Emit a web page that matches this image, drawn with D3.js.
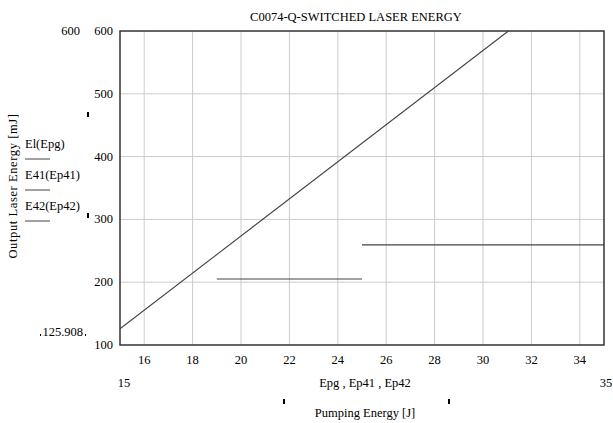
<!DOCTYPE html>
<html>
<head>
<meta charset="utf-8">
<script src="https://cdn.jsdelivr.net/npm/d3@7"></script>
<style>
body { margin: 0; background: #fff; }
svg text { font-family: "Liberation Serif", "Times New Roman", Times, "DejaVu Serif", serif; font-size: 12.5px; fill: #000; }
</style>
</head>
<body>
<div id="chart"></div>
<script>
var W = 613, H = 423;
var margin = {left: 120, right: 9, top: 31, bottom: 78};

// El(Epg) straight line, E41 and E42 flat segments
var elEpg = [[15, 125.908], [31.05, 600]];
var e41 = [[19, 205], [25, 205]];
var e42 = [[25, 259.5], [35, 259.5]];

var xTicks = [16, 18, 20, 22, 24, 26, 28, 30, 32, 34];
var yTicks = [100, 200, 300, 400, 500, 600];
var legendNames = ["El(Epg)", "E41(Ep41)", "E42(Ep42)"];

var svg = d3.select("#chart").append("svg").attr("width", W).attr("height", H);

var x = d3.scaleLinear().domain([15, 35]).range([margin.left, W - margin.right]);
var y = d3.scaleLinear().domain([100, 600]).range([H - margin.bottom, margin.top]);

// grid
svg.append("g").selectAll("line").data(xTicks).enter().append("line")
    .attr("x1", function(d) { return x(d); }).attr("x2", function(d) { return x(d); })
    .attr("y1", y(100)).attr("y2", y(600))
    .attr("stroke", "#cccccc").attr("stroke-width", 1);
svg.append("g").selectAll("line").data(yTicks.slice(1, -1)).enter().append("line")
    .attr("y1", function(d) { return y(d); }).attr("y2", function(d) { return y(d); })
    .attr("x1", x(15)).attr("x2", x(35))
    .attr("stroke", "#cccccc").attr("stroke-width", 1);

// frame
svg.append("rect")
    .attr("x", x(15)).attr("y", y(600))
    .attr("width", x(35) - x(15)).attr("height", y(100) - y(600))
    .attr("fill", "none").attr("stroke", "#333").attr("stroke-width", 1.5);

var line = d3.line().x(function(d) { return x(d[0]); }).y(function(d) { return y(d[1]); });
[elEpg, e41, e42].forEach(function(s) {
    svg.append("path").datum(s).attr("d", line)
        .attr("fill", "none").attr("stroke", "#444").attr("stroke-width", 1.1);
});

// y tick labels
svg.append("g").selectAll("text").data(yTicks).enter().append("text")
    .attr("x", x(15) - 7).attr("y", function(d) { return y(d) + 4; })
    .attr("text-anchor", "end").text(function(d) { return d; });

// x tick labels
svg.append("g").selectAll("text").data(xTicks).enter().append("text")
    .attr("x", function(d) { return x(d); }).attr("y", 364)
    .attr("text-anchor", "middle").text(function(d) { return d; });

svg.append("text").attr("x", x(15) + 4).attr("y", 387).attr("text-anchor", "middle").text("15");
svg.append("text").attr("x", x(35) + 2).attr("y", 387).attr("text-anchor", "middle").text("35");
svg.append("text").attr("x", 365).attr("y", 387).attr("text-anchor", "middle").text("Epg , Ep41 , Ep42");
svg.append("text").attr("x", 365).attr("y", 417).attr("text-anchor", "middle").text("Pumping Energy [J]");
svg.append("rect").attr("x", 283).attr("y", 399).attr("width", 2).attr("height", 5).attr("fill", "#000");
svg.append("rect").attr("x", 448).attr("y", 399).attr("width", 2).attr("height", 5).attr("fill", "#000");

// title
svg.append("text").attr("x", 356).attr("y", 21).attr("text-anchor", "middle").text("C0074-Q-SWITCHED LASER ENERGY");

// left side
svg.append("text").attr("x", 80).attr("y", 35).attr("text-anchor", "end").text("600");
svg.append("text").attr("x", 83).attr("y", 336).attr("text-anchor", "end").text("125.908");
svg.append("rect").attr("x", 40).attr("y", 334).attr("width", 1).attr("height", 2).attr("fill", "#000");
svg.append("rect").attr("x", 85).attr("y", 334).attr("width", 1).attr("height", 2).attr("fill", "#000");
svg.append("rect").attr("x", 87).attr("y", 112).attr("width", 2).attr("height", 5).attr("fill", "#000");
svg.append("rect").attr("x", 87).attr("y", 213).attr("width", 2).attr("height", 5).attr("fill", "#000");

svg.append("text")
    .attr("transform", "translate(17,186) rotate(-90)")
    .attr("text-anchor", "middle").attr("letter-spacing", "0.6px")
    .text("Output Laser Energy [mJ]");

var leg = svg.append("g").selectAll("g").data(legendNames).enter().append("g")
    .attr("transform", function(d, i) { return "translate(25," + (148 + i * 31) + ")"; });
leg.append("text").attr("x", 0).attr("y", 0).text(function(d) { return d; });
leg.append("line").attr("x1", 0).attr("x2", 25).attr("y1", 11).attr("y2", 11)
    .attr("stroke", "#444").attr("stroke-width", 1);
</script>
</body>
</html>
